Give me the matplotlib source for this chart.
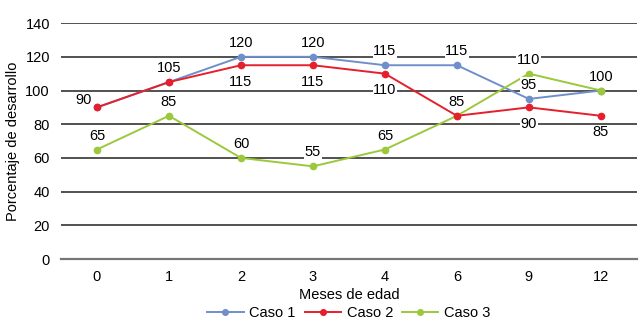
import matplotlib.pyplot as plt

plt.rcParams['font.family'] = ['Liberation Sans', 'DejaVu Sans']

meses = ['0', '1', '2', '3', '4', '6', '9', '12']
caso1 = [90, 105, 120, 120, 115, 115, 95, 100]
caso2 = [90, 105, 115, 115, 110, 85, 90, 85]
caso3 = [65, 85, 60, 55, 65, 85, 110, 100]

azul = '#6f8fcb'
rojo = '#e51f2b'
verde = '#9cc83c'

fig = plt.figure(figsize=(6.42, 3.30), dpi=100)
ax = fig.add_axes([0.095, 0.215, 0.897, 0.715])

x = list(range(len(meses)))
ax.plot(x, caso1, color=azul, marker='o', ms=4.5, lw=1.4, label='Caso 1', zorder=3)
ax.plot(x, caso2, color=rojo, marker='o', ms=4.5, lw=1.4, label='Caso 2', zorder=4)
ax.plot(x, caso3, color=verde, marker='o', ms=4.5, lw=1.4, label='Caso 3', zorder=3)

caja = dict(facecolor='white', edgecolor='none', pad=0.5)


def etiqueta(i, v, dx, dy):
    ax.annotate(str(v), (i, v), xytext=(dx, dy), textcoords='offset points',
                ha='center', va='center', fontsize=10.5, bbox=caja, zorder=5)


# Caso 1: arriba (el 0 a la izquierda)
etiqueta(0, caso1[0], -10, 5)
for i in range(1, 7):
    etiqueta(i, caso1[i], 0, 10)
# Caso 2: abajo
for i in [2, 3, 4, 6, 7]:
    etiqueta(i, caso2[i], 0, -12)
# Caso 3: arriba
for i in range(len(meses)):
    etiqueta(i, caso3[i], 0, 10)

ax.set_ylim(0, 140)
ax.set_xlim(-0.5, 7.5)
ax.set_yticks(range(0, 141, 20))
ax.set_xticks(x)
ax.set_xticklabels(meses)
ax.yaxis.grid(True, color='#222222', lw=1.1)
ax.set_axisbelow(True)
for s in ['top', 'right', 'left']:
    ax.spines[s].set_visible(False)
ax.spines['bottom'].set_color('#777777')
ax.spines['bottom'].set_linewidth(1.6)
ax.tick_params(length=0, labelsize=10.5, pad=8)
ax.set_xlabel('Meses de edad', fontsize=10.5, labelpad=3)
ax.set_ylabel('Porcentaje de desarrollo', fontsize=10.5)

ax.legend(loc='center', bbox_to_anchor=(0.5, -0.23), ncol=3, frameon=False,
          fontsize=10.5, handlelength=2.5, columnspacing=0.6, handletextpad=0.4,
          markerscale=0.9)

fig.savefig('out.png', dpi=100)
